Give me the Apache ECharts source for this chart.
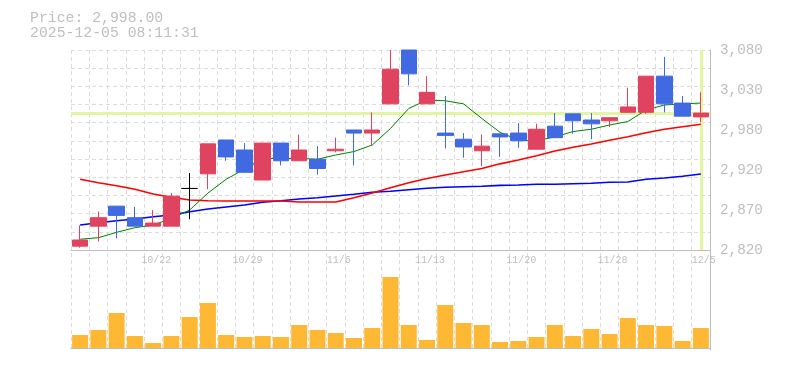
<!DOCTYPE html>
<html><head><meta charset="utf-8">
<script src="https://cdn.jsdelivr.net/npm/echarts@6/dist/echarts.min.js"></script>
<style>html,body{margin:0;padding:0;background:#fff;}#c{width:785px;height:370px;}</style>
</head><body><div id="c"></div>
<script>
const titleLines = ['Price: 2,998.00', '2025-12-05 08:11:31'];
const currentPrice = 2998;
const dates = ['10/16','10/17','10/20','10/21','10/22','10/23','10/24','10/27','10/28','10/29','10/30','10/31','11/4','11/5','11/6','11/7','11/10','11/11','11/12','11/13','11/14','11/17','11/18','11/19','11/20','11/21','11/25','11/26','11/27','11/28','12/1','12/2','12/3','12/4','12/5'];
const opens  = [2825,2851,2877,2862,2851,2851,2900,2919,2963,2950,2911,2959,2936,2938,2949,2976,2972,3010,3080,3010,2972,2964,2949,2971,2972,2951,2981,2997,2989,2988,2999,2999,3046,3011,2993];
const closes = [2833,2862,2865,2851,2855,2890,2900,2958,2941,2921,2959,2936,2950,2926,2951,2972,2976,3055,3049,3025,2969,2954,2955,2967,2962,2977,2966,2988,2984,2992,3006,3046,3010,2994,2998];
const lows   = [2823,2831,2835,2851,2851,2851,2860,2899,2936,2921,2911,2930,2936,2918,2947,2930,2956,3010,3034,3010,2952,2940,2929,2941,2953,2951,2966,2971,2964,2980,2999,2997,2999,2994,2986];
const highs  = [2852,2870,2877,2876,2872,2894,2920,2958,2963,2959,2959,2959,2970,2955,2966,2976,2999,3080,3080,3046,3020,2972,2970,2971,2985,2984,2998,2997,2998,2992,3031,3046,3071,3020,3025];
const ma5  = [2834,2836,2843,2849,2852.5,2861,2872,2894,2912,2925,2939,2939,2939,2938,2943.5,2948,2956.5,2978,3004,3015,3014,3010,2991,2973,2963,2962,2967,2974,2977,2982.5,2987,3002,3008.5,3010,3011];
const ma25 = [2912,2907.5,2903.6,2899,2892.8,2888.5,2885,2884,2883.7,2883.7,2883.7,2883.7,2882.4,2882.4,2882.4,2888,2894,2901,2907.5,2913,2917.5,2921.8,2926,2932,2937,2942.6,2948.7,2953.5,2957.8,2962.6,2967.3,2972.5,2977,2980.3,2983.4];
const ma75 = [2852.5,2855.5,2858,2860.3,2863.3,2865.5,2869.8,2873.3,2876,2878.5,2882,2884,2886.3,2888,2890.2,2892.4,2895,2896.3,2898.4,2900.2,2901.5,2902.3,2902.8,2904,2904.5,2905.4,2905.4,2906.2,2906.7,2908,2908.4,2912,2913.6,2915.8,2918.8];
const volumes = [13,18,35,12,5,12,31,45,13,11,12,11,23,18,15,10,20,71,23,8,43,25,23,6,7,11,23,12,19,14,30,23,22,7,20];
const priceTicks = [2820,2872,2924,2976,3028,3080];
const priceTickLabels = ['2,820','2,870','2,920','2,980','3,030','3,080'];

const FONT = '"Liberation Mono","DejaVu Sans Mono",monospace';
const GRID_C = '#dcdcdc';
const AXIS_C = '#bdbdbd';
const TEXT_C = '#bfbfbf';
const UP = '#e0435f';
const DOWN = '#4169e1';

const chart = echarts.init(document.getElementById('c'), null, {renderer:'canvas'});
chart.setOption({
  animation: false,
  title: {
    text: titleLines.join('\n'), left: 25, top: 5,
    textStyle: {fontFamily: FONT, fontSize: 14.8, fontWeight: 'normal', color: TEXT_C, lineHeight: 15.6}
  },
  grid: [
    {left: 71, right: 75, top: 50, height: 200},
    {left: 71, right: 75, top: 50, bottom: 20}
  ],
  xAxis: [
    {type: 'category', gridIndex: 0, data: dates, boundaryGap: true,
     axisLine: {show: true, lineStyle: {color: AXIS_C}}, axisTick: {show: false},
     axisLabel: {interval: (i) => i % 5 === 4, fontFamily: FONT, fontSize: 10, color: TEXT_C, margin: 5, padding: [0, 0, 0, 6]},
     splitLine: {show: false}},
    {type: 'category', gridIndex: 1, data: dates, boundaryGap: true,
     axisLine: {show: true, lineStyle: {color: AXIS_C}}, axisTick: {show: false},
     axisLabel: {show: false},
     splitLine: {show: true, interval: 0, lineStyle: {color: GRID_C, type: [4, 3], width: 1}}}
  ],
  yAxis: [
    {type: 'value', gridIndex: 0, position: 'right', min: 2820, max: 3080, interval: 52,
     axisLine: {show: true, lineStyle: {color: AXIS_C}}, axisTick: {show: false}, splitLine: {show: false},
     axisLabel: {fontFamily: FONT, fontSize: 14.3, color: TEXT_C, margin: 10, padding: [5, 0, 0, 0],
       formatter: (v) => {
         let k = 0, best = Infinity;
         priceTicks.forEach((t, j) => { const d = Math.abs(t - v); if (d < best) { best = d; k = j; } });
         return priceTickLabels[k];
       }}},
    {type: 'value', gridIndex: 0, position: 'left', min: 0, max: 11, interval: 1,
     axisLine: {show: false}, axisTick: {show: false}, axisLabel: {show: false},
     splitLine: {show: true, lineStyle: {color: GRID_C, type: [4, 3], width: 1}}},
    {type: 'value', gridIndex: 1, position: 'right', min: -2, max: 298,
     axisLine: {show: true, lineStyle: {color: AXIS_C}}, axisTick: {show: false},
     axisLabel: {show: false}, splitLine: {show: false}}
  ],
  series: [
    {type: 'line', name: 'MA75', xAxisIndex: 0, yAxisIndex: 0, data: ma75, showSymbol: false, z: 1,
     lineStyle: {color: '#0000ff', width: 1.6},
     markLine: {silent: true, symbol: 'none', z: 1, animation: false,
       label: {show: false},
       lineStyle: {color: '#e3f5a3', width: 3, type: 'solid'},
       emphasis: {disabled: true},
       data: [{yAxis: currentPrice}, {xAxis: dates[dates.length - 1]}]}},
    {type: 'line', name: 'MA25', xAxisIndex: 0, yAxisIndex: 0, data: ma25, showSymbol: false, z: 2,
     lineStyle: {color: '#ff0000', width: 1.6}},
    {type: 'line', name: 'MA5', xAxisIndex: 0, yAxisIndex: 0, data: ma5, showSymbol: false, z: 2,
     lineStyle: {color: '#008000', width: 1}},
    {type: 'candlestick', xAxisIndex: 0, yAxisIndex: 0, z: 3, barWidth: 16,
     data: dates.map((d, i) => [opens[i], closes[i], lows[i], highs[i]]),
     itemStyle: {color: UP, color0: DOWN, borderColor: UP, borderColor0: DOWN, borderColorDoji: '#000000', borderWidth: 1}},
    {type: 'bar', xAxisIndex: 1, yAxisIndex: 2, data: volumes, barWidth: 16,
     itemStyle: {color: '#ffb834'}}
  ]
});
</script>
</body></html>
